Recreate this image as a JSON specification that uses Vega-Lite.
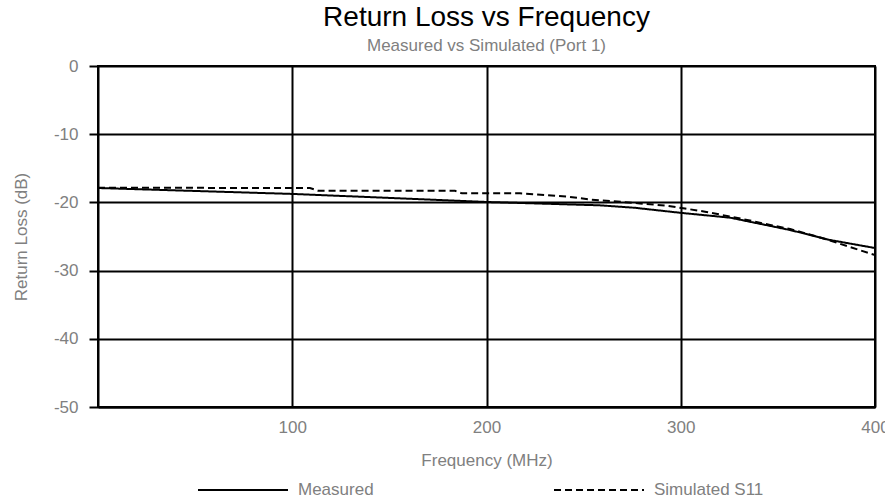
{
  "$schema": "https://vega.github.io/schema/vega-lite/v6.json",
  "width": 777,
  "height": 341,
  "autosize": {"type": "none"},
  "padding": {"left": 98, "top": 66, "right": 10, "bottom": 93},
  "background": "white",
  "title": {
    "text": "Return Loss vs Frequency",
    "subtitle": "Measured vs Simulated (Port 1)",
    "anchor": "middle",
    "font": "Liberation Sans",
    "fontSize": 28,
    "fontWeight": "normal",
    "color": "black",
    "subtitleFont": "Liberation Sans",
    "subtitleFontSize": 17,
    "subtitleColor": "#808080",
    "subtitlePadding": 6,
    "offset": 3
  },
  "data": {
    "values": [
      {"series": "Measured", "freq": 0, "rl": -17.89},
      {"series": "Measured", "freq": 101.4, "rl": -18.77},
      {"series": "Measured", "freq": 200.3, "rl": -19.94},
      {"series": "Measured", "freq": 258.4, "rl": -20.43},
      {"series": "Measured", "freq": 276.4, "rl": -20.79},
      {"series": "Measured", "freq": 299.6, "rl": -21.52},
      {"series": "Measured", "freq": 325.4, "rl": -22.24},
      {"series": "Measured", "freq": 356.3, "rl": -24.05},
      {"series": "Measured", "freq": 376.8, "rl": -25.51},
      {"series": "Measured", "freq": 400, "rl": -26.69},
      {"series": "Simulated S11", "freq": 0, "rl": -17.85},
      {"series": "Simulated S11", "freq": 109.1, "rl": -17.89},
      {"series": "Simulated S11", "freq": 113.3, "rl": -18.28},
      {"series": "Simulated S11", "freq": 183.8, "rl": -18.31},
      {"series": "Simulated S11", "freq": 187.4, "rl": -18.67},
      {"series": "Simulated S11", "freq": 217.2, "rl": -18.67},
      {"series": "Simulated S11", "freq": 230.1, "rl": -18.92},
      {"series": "Simulated S11", "freq": 241.4, "rl": -19.14},
      {"series": "Simulated S11", "freq": 253.3, "rl": -19.58},
      {"series": "Simulated S11", "freq": 264.6, "rl": -19.8},
      {"series": "Simulated S11", "freq": 279.0, "rl": -20.16},
      {"series": "Simulated S11", "freq": 291.9, "rl": -20.45},
      {"series": "Simulated S11", "freq": 302.2, "rl": -20.9},
      {"series": "Simulated S11", "freq": 312.5, "rl": -21.36},
      {"series": "Simulated S11", "freq": 325.4, "rl": -22.07},
      {"series": "Simulated S11", "freq": 335.6, "rl": -22.65},
      {"series": "Simulated S11", "freq": 346.0, "rl": -23.31},
      {"series": "Simulated S11", "freq": 356.3, "rl": -23.9},
      {"series": "Simulated S11", "freq": 369.1, "rl": -24.93},
      {"series": "Simulated S11", "freq": 376.8, "rl": -25.59},
      {"series": "Simulated S11", "freq": 387.1, "rl": -26.54},
      {"series": "Simulated S11", "freq": 397.4, "rl": -27.49},
      {"series": "Simulated S11", "freq": 400, "rl": -27.71}
    ]
  },
  "mark": {"type": "line", "color": "black", "strokeWidth": 2, "clip": true},
  "encoding": {
    "x": {
      "field": "freq",
      "type": "quantitative",
      "scale": {"domain": [0, 400], "nice": false, "zero": false},
      "axis": {
        "values": [100, 200, 300, 400],
        "title": "Frequency (MHz)",
        "grid": true,
        "ticks": false,
        "labelFlush": false,
        "labelOverlap": false,
        "labelPadding": 12,
        "titlePadding": 17
      }
    },
    "y": {
      "field": "rl",
      "type": "quantitative",
      "scale": {"domain": [-50, 0], "nice": false, "zero": false},
      "axis": {
        "values": [0, -10, -20, -30, -40, -50],
        "labelExpr": "'' + datum.value",
        "title": "Return Loss (dB)",
        "grid": true,
        "ticks": true,
        "tickSize": 9,
        "labelPadding": 11,
        "titlePadding": 23
      }
    },
    "strokeDash": {
      "field": "series",
      "type": "nominal",
      "scale": {"domain": ["Measured", "Simulated S11"], "range": [[1, 0], [7, 4]]},
      "legend": {
        "title": null,
        "orient": "none",
        "direction": "horizontal",
        "legendX": 90,
        "legendY": 414,
        "symbolType": "M0,0H10",
        "symbolSize": 324,
        "symbolStrokeColor": "black",
        "symbolStrokeWidth": 2,
        "symbolFillColor": "transparent",
        "labelOffset": 90,
        "columnPadding": 170,
        "labelFont": "Liberation Sans",
        "labelFontSize": 17,
        "labelColor": "#808080"
      }
    }
  },
  "config": {
    "view": {"stroke": "black", "strokeWidth": 2},
    "axis": {
      "domainColor": "black",
      "domainWidth": 2,
      "gridColor": "black",
      "gridWidth": 2,
      "gridOpacity": 1,
      "tickColor": "black",
      "tickWidth": 2,
      "labelFont": "Liberation Sans",
      "labelFontSize": 17,
      "labelColor": "#808080",
      "titleFont": "Liberation Sans",
      "titleFontSize": 17,
      "titleFontWeight": "normal",
      "titleColor": "#808080"
    }
  }
}
